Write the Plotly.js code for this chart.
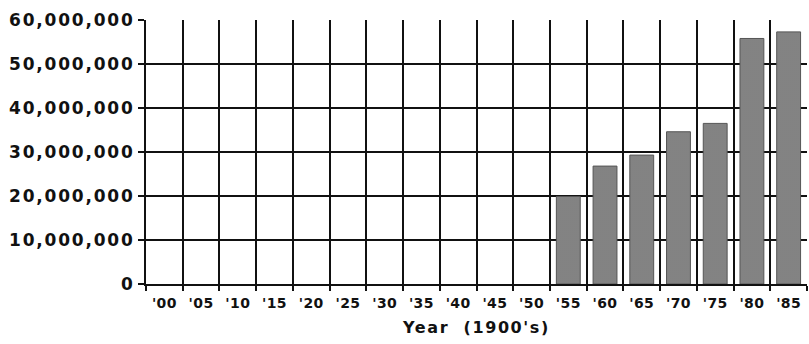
<!DOCTYPE html>
<html>
<head>
<meta charset="utf-8">
<script src="https://cdn.plot.ly/plotly-3.0.1.min.js"></script>
<style>
  html, body { margin: 0; padding: 0; background: #fff; }
  #chart { width: 809px; height: 344px; }
  .ytick text { letter-spacing: 1.8px; }
  .xtick text { letter-spacing: 0.4px; }
  .g-xtitle text { letter-spacing: 1.6px; }
</style>
</head>
<body>
<div id="chart"></div>
<script>
const years = ["'00","'05","'10","'15","'20","'25","'30","'35","'40","'45","'50","'55","'60","'65","'70","'75","'80","'85"];
const values = [null,null,null,null,null,null,null,null,null,null,null,19900000,26800000,29300000,34600000,36500000,55800000,57300000];
const yTickVals = [0,10000000,20000000,30000000,40000000,50000000,60000000];

const trace = {
  type: 'bar',
  x: years,
  y: values,
  marker: {
    color: '#888888',
    line: { color: '#555555', width: 1 },
    pattern: { shape: '.', bgcolor: '#929292', fgcolor: '#6a6a6a', size: 2, solidity: 0.4 }
  },
  hoverinfo: 'skip'
};

const layout = {
  width: 809, height: 344,
  margin: { l: 146, r: 2, t: 20, b: 60 },
  paper_bgcolor: '#ffffff',
  plot_bgcolor: '#ffffff',
  showlegend: false,
  bargap: 0.35,
  font: { family: 'DejaVu Sans, Arial, sans-serif', color: '#111111' },
  xaxis: {
    type: 'category',
    categoryorder: 'array',
    categoryarray: years,
    range: [-0.5, 17.5],
    tickson: 'boundaries',
    showgrid: true,
    gridcolor: '#111111',
    gridwidth: 2,
    showline: true,
    linecolor: '#111111',
    linewidth: 2,
    ticks: 'outside',
    ticklen: 5,
    tickwidth: 2,
    tickcolor: '#111111',
    ticklabelstandoff: 5,
    tickfont: { family: 'DejaVu Sans, Arial, sans-serif', size: 14, color: '#111111', weight: 'bold' },
    title: { text: 'Year\u00A0\u00A0(1900\'s)', font: { family: 'DejaVu Sans, Arial, sans-serif', size: 16, color: '#111111', weight: 'bold' }, standoff: 12 },
    fixedrange: true
  },
  yaxis: {
    range: [0, 60000000],
    tickvals: yTickVals,
    tickformat: ',d',
    showgrid: true,
    gridcolor: '#111111',
    gridwidth: 2,
    zeroline: false,
    showline: true,
    linecolor: '#111111',
    linewidth: 2,
    ticks: 'outside',
    ticklen: 6,
    tickwidth: 2,
    tickcolor: '#111111',
    tickfont: { family: 'DejaVu Sans, Arial, sans-serif', size: 17, color: '#111111', weight: 'bold' },
    fixedrange: true
  }
};

Plotly.newPlot('chart', [trace], layout, { displayModeBar: false, staticPlot: true });
</script>
</body>
</html>
